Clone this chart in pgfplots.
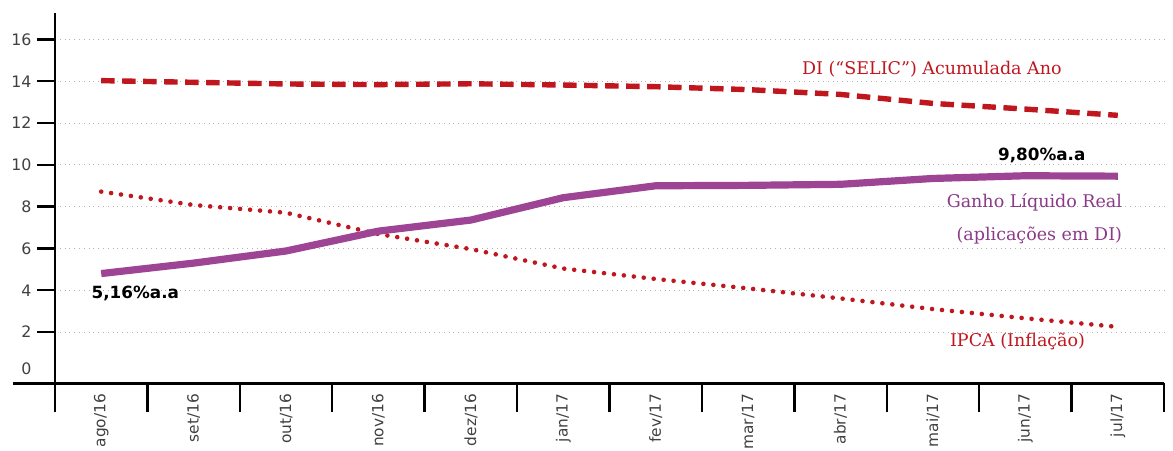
\documentclass[border=0pt]{standalone}
\usepackage{pgfplots}
\pgfplotsset{compat=1.18}
\usepackage{fontspec}
\setmainfont{DejaVu Sans}
\newfontfamily\labfont{DejaVu Serif}
\definecolor{dired}{HTML}{C0161D}
\definecolor{ganho}{HTML}{9D4495}
\definecolor{ganhotxt}{HTML}{8B3A88}
\begin{document}
\begin{tikzpicture}[x=0.5pt,y=0.5pt]
\useasboundingbox (0,0) rectangle (1173,450);
\begin{axis}[
  at={(27.5pt,33.35pt)}, anchor=south west,
  scale only axis, width=554.5pt, height=185.3pt,
  xmin=-0.5, xmax=11.5, ymin=-0.45, ymax=17.28,
  axis x line*=bottom, axis y line*=left,
  axis line style={line width=1.4pt, black},
  tick align=outside,
  /pgf/number format/assume math mode=true,
  ticklabel style={font=\fontsize{7.9}{9}\selectfont, text=black!75},
  xtick={-0.5,0.5,...,11.5}, xticklabels={},
  xtick style={/pgfplots/major tick length=14.5pt, line width=1.2pt, black},
  extra x ticks={0,1,2,3,4,5,6,7,8,9,10,11},
  extra x tick labels={ago/16,set/16,out/16,nov/16,dez/16,jan/17,fev/17,mar/17,abr/17,mai/17,jun/17,jul/17},
  extra x tick style={tick style={draw=none}, xticklabel style={rotate=90, anchor=east, xshift=2.5pt, font=\fontsize{7.7}{9}\selectfont}},
  ytick={2,4,...,16},
  yticklabel style={xshift=-4pt},
  ytick style={/pgfplots/major tick length=9pt, line width=1.2pt, black},
  extra y ticks={0},
  extra y tick style={tick style={draw=none}, grid=none, yticklabel style={yshift=2.5pt}},
  ymajorgrids,
  grid style={dotted, line width=0.5pt, black!30},
  clip=false,
]
\addplot[dired, line width=2.7pt, dash pattern=on 6.7pt off 3.8pt] coordinates {
(0,14.03)(1,13.95)(2,13.87)(3,13.84)(4,13.88)(5,13.82)(6,13.74)(7,13.6)(8,13.37)(9,12.94)(10,12.67)(11,12.37)};
\addplot[dired, line width=2.3pt, line cap=round, dash pattern=on 0pt off 5pt] coordinates {
(0,8.72)(1,8.08)(2,7.71)(3,6.69)(4,5.97)(5,5.04)(6,4.54)(7,4.09)(8,3.61)(9,3.1)(10,2.66)(11,2.25)};
\addplot[ganho, line width=3.6pt] coordinates {
(0,4.8)(1,5.3)(2,5.88)(3,6.83)(4,7.36)(5,8.43)(6,9.0)(7,9.02)(8,9.07)(9,9.35)(10,9.48)(11,9.46)};
\node[anchor=base west, inner sep=0pt, font=\bfseries\fontsize{8.4}{10}\selectfont] at (axis cs:-0.108,3.63) {5,16\%a.a};
\node[anchor=base west, inner sep=0pt, font=\bfseries\fontsize{8.4}{10}\selectfont] at (axis cs:9.70,10.23) {9,80\%a.a};
\node[anchor=base west, inner sep=0pt, text=dired, font=\labfont\fontsize{8.75}{10}\selectfont] at (axis cs:7.58,14.3) {DI (“SELIC”) Acumulada Ano};
\node[anchor=base east, inner sep=0pt, text=ganhotxt, font=\labfont\fontsize{8.75}{10}\selectfont] at (axis cs:11.05,7.97) {Ganho Líquido Real};
\node[anchor=base east, inner sep=0pt, text=ganhotxt, font=\labfont\fontsize{8.75}{10}\selectfont] at (axis cs:11.05,6.37) {(aplicações em DI)};
\node[anchor=base east, inner sep=0pt, text=dired, font=\labfont\fontsize{8.75}{10}\selectfont] at (axis cs:10.65,1.30) {IPCA (Inflação)};
\end{axis}
\draw[line width=1.4pt] (13,66.7) -- (55,66.7);
\end{tikzpicture}
\end{document}
